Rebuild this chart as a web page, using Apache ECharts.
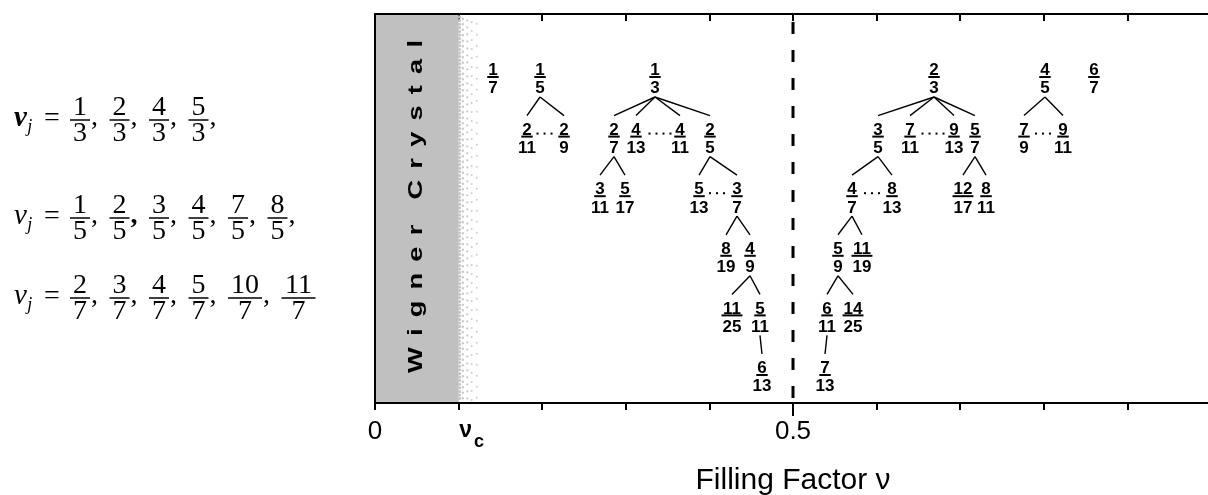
<!DOCTYPE html>
<html>
<head>
<meta charset="utf-8">
<title>Filling factor hierarchy</title>
<script src="https://cdn.jsdelivr.net/npm/echarts@6.0.0/dist/echarts.min.js"></script>
<style>
html,body{margin:0;padding:0;background:#fff;}
#chart{width:1208px;height:495px;}
</style>
</head>
<body>
<div id="chart"></div>
<script>
// ---------------- data ----------------
const xMin = 0, xMax = 1, xTickStep = 0.1;
const labeledTicks = [0, 0.1, 0.5];
const labeledTickTexts = ['0', '{nu|ν}{sub|c}', '0.5'];
const axisTitle = 'Filling Factor ν';
const wignerRange = [0, 0.1];          // Wigner crystal region (0 .. νc)
const transitionRange = [0.1, 0.123];  // dotted transition band
const wignerLabel = 'Wigner Crystal';
const halfFilling = [0.5];

// fractions: [numerator, denominator, position on the ν axis (as placed), tree row]
const leftTree = [
  ['1','7',0.1411,0], ['1','5',0.1974,0], ['1','3',0.3349,0],
  ['2','11',0.1818,1], ['2','9',0.2261,1], ['2','7',0.2859,1], ['4','13',0.3122,1], ['4','11',0.3648,1], ['2','5',0.4007,1],
  ['3','11',0.2691,2], ['5','17',0.2990,2], ['5','13',0.3876,2], ['3','7',0.4330,2],
  ['8','19',0.4199,3], ['4','9',0.4486,3],
  ['11','25',0.4270,4], ['5','11',0.4605,4],
  ['6','13',0.4629,5]
];
const rightTree = [
  ['2','3',0.6687,0], ['4','5',0.8014,0], ['6','7',0.8600,0],
  ['3','5',0.6017,1], ['7','11',0.6400,1], ['9','13',0.6926,1], ['5','7',0.7177,1], ['7','9',0.7763,1], ['9','11',0.8230,1],
  ['4','7',0.5706,2], ['8','13',0.6184,2], ['12','17',0.7033,2], ['8','11',0.7309,2],
  ['5','9',0.5538,3], ['11','19',0.5825,3],
  ['6','11',0.5407,4], ['14','25',0.5718,4],
  ['7','13',0.5383,5]
];
const treeEdges = [
  ['1/5','2/11'], ['1/5','2/9'],
  ['1/3','2/7'], ['1/3','4/13'], ['1/3','4/11'], ['1/3','2/5'],
  ['2/7','3/11'], ['2/7','5/17'],
  ['2/5','5/13'], ['2/5','3/7'],
  ['3/7','8/19'], ['3/7','4/9'],
  ['4/9','11/25'], ['4/9','5/11'],
  ['5/11','6/13'],
  ['2/3','3/5'], ['2/3','7/11'], ['2/3','9/13'], ['2/3','5/7'],
  ['4/5','7/9'], ['4/5','9/11'],
  ['3/5','4/7'], ['3/5','8/13'],
  ['5/7','12/17'], ['5/7','8/11'],
  ['4/7','5/9'], ['4/7','11/19'],
  ['5/9','6/11'], ['5/9','14/25'],
  ['6/11','7/13']
];
// ellipses between fractions: [position, row, number of dots]
const ellipses = [
  [0.2028,1,3], [0.3409,1,4], [0.4091,2,3],
  [0.6675,1,4], [0.7990,1,3], [0.5945,2,3]
];
// formula text on the left
const formulaSeries1 = ['1/3','2/3','4/3','5/3'];
const formulaSeries2 = ['1/5','2/5','3/5','4/5','7/5','8/5'];
const formulaSeries3 = ['2/7','3/7','4/7','5/7','10/7','11/7'];

// ---------------- drawing ----------------
const SANS = '"Liberation Sans", Arial, sans-serif';
const SERIF = '"Liberation Serif", "Times New Roman", serif';
const FRAC_FONT = 'bold 17px ' + SANS;
const FRAC_DIGIT = 9.45;
const mctx = document.createElement('canvas').getContext('2d');

const allFractions = leftTree.concat(rightTree).map(f => ({num:f[0], den:f[1], x:f[2], row:f[3]}));
const byKey = {};
allFractions.forEach(f => { byKey[f.num + '/' + f.den] = f; });

function txt(x, y, text, font, align, valign, extra) {
  return Object.assign({
    type: 'text', x: x, y: y,
    style: { text: text, font: font, fill: '#000', align: align, verticalAlign: valign,
             textAlign: align, textVerticalAlign: valign, legacy: false }
  }, extra || {});
}

function renderBand(params, api) {
  const cs = params.coordSys;
  const xa = api.coord([api.value(0), 0])[0];
  const xb = api.coord([api.value(1), 0])[0];
  const xc = api.coord([api.value(2), 0])[0];
  const top = cs.y, bottom = cs.y + cs.height;
  const children = [{ type: 'rect', shape: { x: xa + 1, y: top + 1, width: xb - xa - 1, height: cs.height - 2 }, style: { fill: '#c0c0c0' } }];
  const span = xc - xb;
  const cols = [[0.05, 3.6, 1.5, '#c4c4c4'], [0.22, 5.5, 1.2, '#c8c8c8'], [0.45, 7, 1.1, '#cbcbcb'], [0.68, 9, 1.0, '#cdcdcd'], [0.95, 11, 1.0, '#cfcfcf']];
  cols.forEach((c, ci) => {
    const cx = xb + c[0] * span;
    for (let y = top + 3 + ci * 1.7; y < bottom - 2; y += c[1]) {
      children.push({ type: 'circle', shape: { cx: cx, cy: y, r: c[2] }, style: { fill: c[3] } });
    }
  });
  // rotated, letter-spaced label
  const LF = 'bold 21px ' + SANS;
  const SX = 1.3;
  mctx.font = LF;
  const chars = wignerLabel.split('');
  const widths = chars.map(ch => ch === ' ' ? 0 : mctx.measureText(ch).width * SX);
  const sumW = widths.reduce((a, b) => a + b, 0);
  const nLetters = chars.filter(ch => ch !== ' ').length;
  const wordExtra = 14;
  const targetLen = cs.height * 0.856;
  const gap = (targetLen - sumW - wordExtra) / (nLetters - 1);
  const centerY = (top + bottom) / 2 - 2;
  const tx = (xa + xb) / 2 - 0.5;
  let cursor = 0;
  const pos = [];
  chars.forEach((ch, i) => {
    if (ch === ' ') { cursor += wordExtra; return; }
    pos.push([ch, cursor + widths[i] / 2]);
    cursor += widths[i] + gap;
  });
  const total = cursor - gap;
  pos.forEach(p => {
    children.push(txt(tx, centerY + total / 2 - p[1], p[0], LF, 'center', 'middle', { rotation: Math.PI / 2, scaleX: SX }));
  });
  return { type: 'group', children: children };
}

function renderHalf(params, api) {
  const cs = params.coordSys;
  const x = api.coord([api.value(0), 0])[0];
  return { type: 'group', children: [
    { type: 'line', shape: { x1: x, y1: cs.y, x2: x, y2: cs.y + cs.height }, style: { stroke: '#000', lineWidth: 3, lineDash: [12, 16], lineDashOffset: 20 } },
    { type: 'line', shape: { x1: x, y1: cs.y + cs.height, x2: x, y2: cs.y + cs.height + 13 }, style: { stroke: '#000', lineWidth: 2 } }
  ]};
}

function renderEdge(params, api) {
  const p1 = api.coord([api.value(0), api.value(1)]);
  const p2 = api.coord([api.value(2), api.value(3)]);
  return { type: 'line', shape: { x1: p1[0], y1: p1[1] + 20, x2: p2[0], y2: p2[1] - 21 }, style: { stroke: '#000', lineWidth: 1.4 } };
}

function renderFraction(params, api) {
  const f = allFractions[params.dataIndex];
  const p = api.coord([api.value(0), api.value(1)]);
  const w = f.num.length * FRAC_DIGIT + 2;
  return { type: 'group', children: [
    txt(p[0], p[1] - 6.5, f.num, FRAC_FONT, 'center', 'middle'),
    { type: 'rect', shape: { x: p[0] - w / 2, y: p[1] - 1, width: w, height: 2 }, style: { fill: '#000' } },
    txt(p[0], p[1] + 11.7, f.den, FRAC_FONT, 'center', 'middle')
  ]};
}

function renderDots(params, api) {
  const p = api.coord([api.value(0), api.value(1)]);
  const n = api.value(2);
  const pitch = 7;
  const children = [];
  for (let i = 0; i < n; i++) {
    const x = p[0] + (i - (n - 1) / 2) * pitch;
    children.push({ type: 'rect', shape: { x: x - 1, y: p[1] - 4, width: 2, height: 2 }, style: { fill: '#000' } });
  }
  return { type: 'group', children: children };
}

// formula block (layout of the left-hand text)
const FORMULA_BAR_Y = [120, 218, 298];
function buildFormula() {
  const els = [];
  const sf = (sz, st, wt) => (st || 'normal') + ' ' + (wt || 'normal') + ' ' + sz + 'px ' + SERIF;
  [formulaSeries1, formulaSeries2, formulaSeries3].forEach((terms, li) => {
    const bar = FORMULA_BAR_Y[li];
    const nuFont = sf(29, 'italic', li === 0 ? 'bold' : 'normal');
    mctx.font = nuFont;
    const nuW = mctx.measureText('ν').width;
    els.push(txt(14, bar - 1.5, 'ν', nuFont, 'left', 'middle'));
    els.push(txt(14 + nuW + 0.5, bar + 7.5, 'j', sf(18, 'italic'), 'left', 'middle'));
    els.push(txt(52, bar - 1.5, '=', sf(28), 'center', 'middle'));
    let cx = 80, prevW = null;
    terms.forEach((t, ti) => {
      const nd = t.split('/');
      const w = Math.max(nd[0].length, nd[1].length) * 14;
      if (prevW !== null) cx += prevW / 2 + 25.5 + w / 2;
      els.push(txt(cx, bar - 12.5, nd[0], sf(28), 'center', 'middle'));
      els.push({ type: 'rect', shape: { x: cx - w / 2 - 3, y: bar - 0.75, width: w + 6, height: 1.5 }, style: { fill: '#000' } });
      els.push(txt(cx, bar + 14, nd[1], sf(28), 'center', 'middle'));
      if (ti < terms.length - 1 || li < 2) {
        els.push(txt(cx + w / 2 + 4, bar - 2.5, ',', sf(28, 'normal', (li === 1 && ti === 1) ? 'bold' : 'normal'), 'left', 'middle'));
      }
      prevW = w;
    });
  });
  return els;
}

const chart = echarts.init(document.getElementById('chart'), null, { renderer: 'canvas' });

const tickFormatter = v => {
  for (let i = 0; i < labeledTicks.length; i++) {
    if (Math.abs(v - labeledTicks[i]) < 1e-9) return labeledTickTexts[i];
  }
  return '';
};

const option = {
  backgroundColor: '#fff',
  animation: false,
  grid: { left: 375, top: 14, width: 836, height: 389, outerBoundsMode: 'none', containLabel: false },
  xAxis: [
    {
      type: 'value', min: xMin, max: xMax, interval: xTickStep, position: 'bottom',
      axisLine: { show: true, onZero: false, lineStyle: { color: '#000', width: 2 } },
      axisTick: { show: true, inside: false, length: 7, lineStyle: { color: '#000', width: 2 } },
      splitLine: { show: false },
      axisLabel: {
        show: true, margin: 16, color: '#000', fontSize: 26, fontFamily: SANS, formatter: tickFormatter,
        rich: {
          nu: { fontSize: 23, fontWeight: 'bold', fontFamily: SANS, color: '#000', padding: [0, 0, 0, 26], lineHeight: 24, verticalAlign: 'top' },
          sub: { fontSize: 18, fontWeight: 'bold', fontFamily: SANS, color: '#000', lineHeight: 32, verticalAlign: 'bottom', padding: [0, 0, 0, 2] }
        }
      },
      name: axisTitle, nameLocation: 'middle', nameGap: 63,
      nameTextStyle: { fontSize: 30, color: '#000', fontFamily: SANS }
    },
    {
      type: 'value', min: xMin, max: xMax, interval: xTickStep, position: 'top',
      axisLine: { show: true, onZero: false, lineStyle: { color: '#000', width: 2 } },
      axisTick: { show: true, inside: true, length: 7, lineStyle: { color: '#000', width: 2 } },
      splitLine: { show: false },
      axisLabel: { show: false }
    }
  ],
  yAxis: {
    type: 'value', inverse: true, min: -1.057, max: 5.47,
    axisLine: { show: true, onZero: false, lineStyle: { color: '#000', width: 2 } },
    axisTick: { show: false }, axisLabel: { show: false }, splitLine: { show: false }
  },
  graphic: { elements: buildFormula() },
  series: [
    { type: 'custom', name: 'band', z: 1, silent: true, renderItem: renderBand,
      data: [[wignerRange[0], wignerRange[1], transitionRange[1]]], encode: { x: [0, 1, 2] } },
    { type: 'custom', name: 'half', z: 3, silent: true, renderItem: renderHalf,
      data: halfFilling.map(v => [v, 0]), encode: { x: 0, y: 1 } },
    { type: 'custom', name: 'edges', z: 4, silent: true, renderItem: renderEdge,
      data: treeEdges.map(e => [byKey[e[0]].x, byKey[e[0]].row, byKey[e[1]].x, byKey[e[1]].row]), encode: { x: [0, 2], y: [1, 3] } },
    { type: 'custom', name: 'fractions', z: 5, silent: true, renderItem: renderFraction,
      data: allFractions.map(f => [f.x, f.row]), encode: { x: 0, y: 1 } },
    { type: 'custom', name: 'dots', z: 5, silent: true, renderItem: renderDots,
      data: ellipses.map(e => [e[0], e[1], e[2]]), encode: { x: 0, y: 1 } }
  ]
};
chart.setOption(option);
</script>
</body>
</html>
